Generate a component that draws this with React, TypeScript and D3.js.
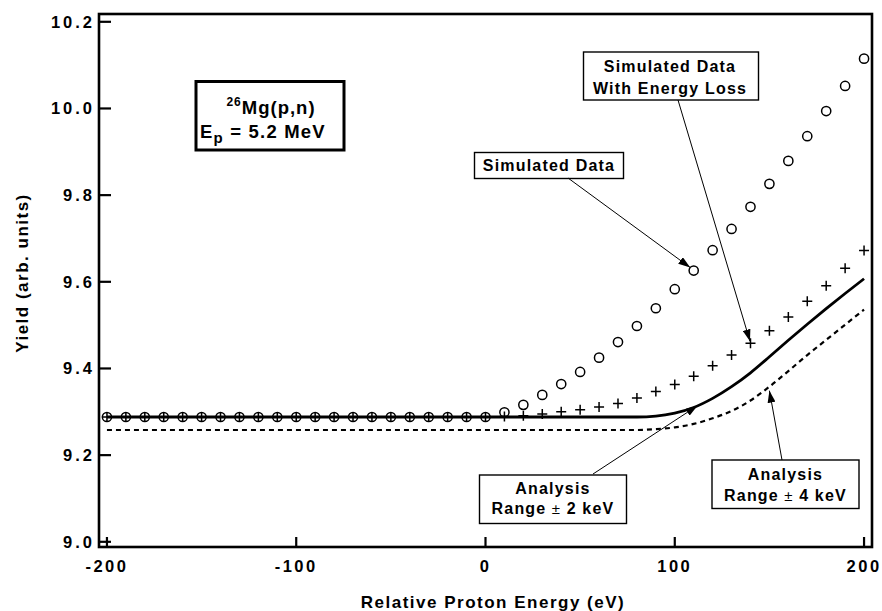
import React from 'react';
import * as d3 from 'd3';

// relative proton energy (eV), one point every 10 eV
const energy = [
  -200, -190, -180, -170, -160, -150, -140, -130, -120, -110, -100,
  -90, -80, -70, -60, -50, -40, -30, -20, -10, 0,
  10, 20, 30, 40, 50, 60, 70, 80, 90, 100,
  110, 120, 130, 140, 150, 160, 170, 180, 190, 200,
];

// open circles
const simulated = [
  9.288, 9.288, 9.288, 9.288, 9.288, 9.288, 9.288, 9.288, 9.288, 9.288, 9.288,
  9.288, 9.288, 9.288, 9.288, 9.288, 9.288, 9.288, 9.288, 9.288, 9.288,
  9.299, 9.316, 9.339, 9.364, 9.392, 9.425, 9.461, 9.498, 9.539, 9.583,
  9.626, 9.673, 9.722, 9.773, 9.826, 9.879, 9.936, 9.994, 10.052, 10.115,
];

// plus markers
const simulatedLoss = [
  9.288, 9.288, 9.288, 9.288, 9.288, 9.288, 9.288, 9.288, 9.288, 9.288, 9.288,
  9.288, 9.288, 9.288, 9.288, 9.288, 9.288, 9.288, 9.288, 9.288, 9.288,
  9.289, 9.291, 9.295, 9.300, 9.305, 9.311, 9.319, 9.332, 9.347, 9.363,
  9.382, 9.406, 9.431, 9.458, 9.487, 9.519, 9.555, 9.591, 9.631, 9.672,
];

// solid curve, +-2 keV
const analysis2 = [
  9.288, 9.288, 9.288, 9.288, 9.288, 9.288, 9.288, 9.288, 9.288, 9.288, 9.288,
  9.288, 9.288, 9.288, 9.288, 9.288, 9.288, 9.288, 9.288, 9.288, 9.288,
  9.288, 9.288, 9.288, 9.288, 9.288, 9.288, 9.288, 9.288, 9.290, 9.297,
  9.310, 9.331, 9.358, 9.390, 9.427, 9.465, 9.502, 9.538, 9.573, 9.607,
];

// dashed curve, +-4 keV
const analysis4 = [
  9.258, 9.258, 9.258, 9.258, 9.258, 9.258, 9.258, 9.258, 9.258, 9.258, 9.258,
  9.258, 9.258, 9.258, 9.258, 9.258, 9.258, 9.258, 9.258, 9.258, 9.258,
  9.258, 9.258, 9.258, 9.258, 9.258, 9.258, 9.258, 9.258, 9.260, 9.264,
  9.272, 9.285, 9.302, 9.326, 9.358, 9.394, 9.431, 9.466, 9.501, 9.536,
];

const xTicks = [-200, -100, 0, 100, 200];
const yTicks = [9.0, 9.2, 9.4, 9.6, 9.8, 10.0, 10.2];

const W = 882;
const H = 611;
const frame = { left: 99, top: 14, right: 872, bottom: 547 };
const font = '"Liberation Sans", Arial, Helvetica, sans-serif';

export default function App() {
  const x = d3.scaleLinear().domain([-204.2, 204.2]).range([frame.left, frame.right]);
  const y = d3.scaleLinear().domain([8.988, 10.218]).range([frame.bottom, frame.top]);

  const curve = (vals: number[]) =>
    d3.line<number>()
      .x((_, i) => x(energy[i]))
      .y((d) => y(d))
      .curve(d3.curveMonotoneX)(vals) || '';

  // arrow tips sit on the data they point at
  const idx = (e: number) => energy.indexOf(e);
  const tipCircle: [number, number] = [x(110) - 3.5, y(simulated[idx(110)]) - 3];
  const tipPlus: [number, number] = [x(140) - 0.5, y(simulatedLoss[idx(140)]) - 2];
  const tipSolid: [number, number] = [x(112), y(9.314)];
  const tipDashed: [number, number] = [x(150), y(analysis4[idx(150)]) + 4];

  const arrows: { from: [number, number]; to: [number, number] }[] = [
    { from: [568, 178], to: tipCircle },
    { from: [678, 100], to: tipPlus },
    { from: [593, 474], to: tipSolid },
    { from: [782, 460], to: tipDashed },
  ];

  return (
    <div style={{ position: 'absolute', left: 0, top: 0 }}>
      <svg width={W} height={H} style={{ display: 'block', background: '#fff' }} fontFamily={font}>
        <defs>
          <marker id="head" viewBox="0 0 12 8" refX={12} refY={4} markerWidth={12} markerHeight={8}
            markerUnits="userSpaceOnUse" orient="auto">
            <path d="M0,0 L12,4 L0,8 Z" fill="#000" />
          </marker>
        </defs>

        {/* curves */}
        <path d={curve(analysis4)} fill="none" stroke="#000" strokeWidth={2.2} strokeDasharray="5,4" />
        <path d={curve(analysis2)} fill="none" stroke="#000" strokeWidth={2.8} />

        {/* circles */}
        {simulated.map((v, i) => (
          <circle key={'c' + i} cx={x(energy[i])} cy={y(v)} r={4.6} fill="none" stroke="#000" strokeWidth={1.5} />
        ))}
        {/* plus markers */}
        {simulatedLoss.map((v, i) => {
          const cx = x(energy[i]);
          const cy = y(v);
          const s = 5;
          return (
            <path key={'p' + i} d={`M${cx - s},${cy}H${cx + s}M${cx},${cy - s}V${cy + s}`}
              stroke="#000" strokeWidth={1.5} />
          );
        })}

        {/* frame */}
        <rect x={frame.left} y={frame.top} width={frame.right - frame.left} height={frame.bottom - frame.top}
          fill="none" stroke="#000" strokeWidth={2.6} />

        {/* y ticks */}
        {yTicks.map((t) => (
          <g key={'y' + t}>
            <line x1={frame.left} x2={frame.left + 12} y1={y(t)} y2={y(t)} stroke="#000" strokeWidth={2.2} />
            <text x={frame.left - 4} y={y(t)} dy="0.36em" textAnchor="end" fontSize={16.5} fontWeight="bold"
              letterSpacing={3}>
              {t.toFixed(1)}
            </text>
          </g>
        ))}

        {/* x ticks */}
        {xTicks.map((t) => (
          <g key={'x' + t}>
            <line x1={x(t)} x2={x(t)} y1={frame.bottom} y2={frame.bottom - 10} stroke="#000" strokeWidth={2.2} />
            <text x={x(t)} y={572} textAnchor="middle" fontSize={16.5} fontWeight="bold" letterSpacing={2.5}>
              {t}
            </text>
          </g>
        ))}

        {/* axis titles */}
        <text x={493} y={608} textAnchor="middle" fontSize={17} fontWeight="bold" letterSpacing={1.5}>
          Relative Proton Energy (eV)
        </text>
        <text transform="translate(28,273) rotate(-90)" textAnchor="middle" fontSize={17} fontWeight="bold"
          letterSpacing={1.5}>
          Yield (arb. units)
        </text>

        {/* reaction box */}
        <rect x={196} y={81.5} width={148} height={68.5} fill="#fff" stroke="#000" strokeWidth={3} />
        <text x={271} y={114} textAnchor="middle" fontSize={18.5} fontWeight="bold" letterSpacing={1}>
          <tspan fontSize={12} dy={-8}>26</tspan>
          <tspan dy={8}>Mg(p,n)</tspan>
        </text>
        <text x={200} y={138} fontSize={18.5} fontWeight="bold" letterSpacing={1.2}>
          <tspan>E</tspan>
          <tspan fontSize={15} dy={5}>p</tspan>
          <tspan dy={-5}> = 5.2 MeV</tspan>
        </text>

        {/* annotation boxes */}
        <g fontSize={16} fontWeight="bold" letterSpacing={1.2} textAnchor="middle">
          <rect x={474.5} y={152.5} width={149} height={26} fill="#fff" stroke="#000" strokeWidth={1.4} />
          <text x={549} y={171}>Simulated Data</text>

          <rect x={583.5} y={52} width={175} height={48} fill="#fff" stroke="#000" strokeWidth={1.4} />
          <text x={670} y={72}>Simulated Data</text>
          <text x={670} y={93.5}>With Energy Loss</text>

          <rect x={479.5} y={475} width={147} height={48.5} fill="#fff" stroke="#000" strokeWidth={1.4} />
          <text x={553} y={493.5}>Analysis</text>
          <text x={553} y={514}>
            Range<tspan fontWeight="normal" fontSize={15}>{' \u00b1 '}</tspan>2 keV
          </text>

          <rect x={712} y={460} width={147} height={48.5} fill="#fff" stroke="#000" strokeWidth={1.4} />
          <text x={785.5} y={480}>Analysis</text>
          <text x={785.5} y={500.5}>
            Range<tspan fontWeight="normal" fontSize={15}>{' \u00b1 '}</tspan>4 keV
          </text>
        </g>

        {/* arrows */}
        {arrows.map((a, i) => (
          <line key={'a' + i} x1={a.from[0]} y1={a.from[1]} x2={a.to[0]} y2={a.to[1]}
            stroke="#000" strokeWidth={1} markerEnd="url(#head)" />
        ))}
      </svg>
    </div>
  );
}
